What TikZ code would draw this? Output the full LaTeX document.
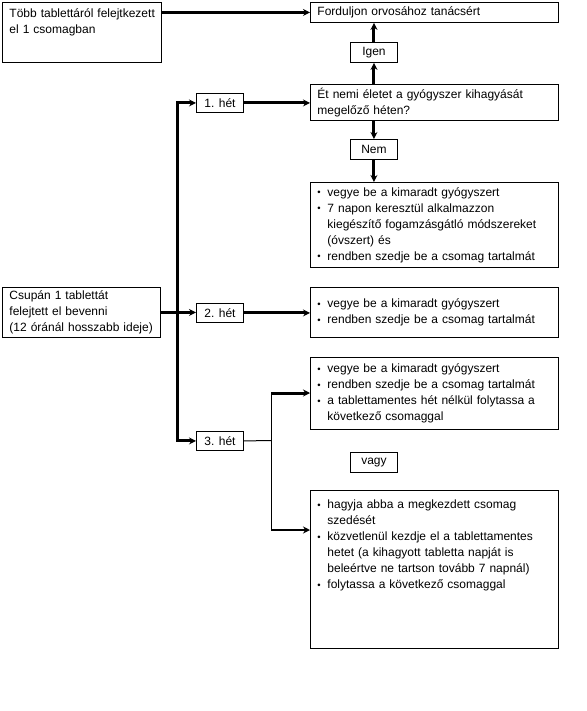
\documentclass[tikz,border=0pt]{standalone}
\usepackage{fontspec}
\setmainfont{Liberation Sans}
\usetikzlibrary{arrows.meta, positioning}

% one bullet line, later lines hang under the text
\newcommand{\itm}[1]{\noindent\hangindent=10pt\hangafter=1%
  \makebox[10pt][l]{\raisebox{0.3pt}{\fontsize{9.5}{9.5}\selectfont\textbullet}}#1\par}

\begin{document}
\begin{tikzpicture}[x=1pt, y=-1pt,
    every node/.style={font=\fontsize{12}{16}\selectfont},
    box/.style={
        draw, line width=0.9pt, anchor=north west, align=left,
        inner xsep=7pt, inner ysep=2pt, text width=#1,
    },
    box/.default=234pt,
    tag/.style={
        draw, line width=0.9pt, anchor=north west, inner sep=0pt,
        minimum width=47pt, minimum height=20pt,
    },
    conn/.style={line width=3pt, -{Stealth[length=7pt, width=7pt]}},
    wire/.style={line width=1pt},
]

\useasboundingbox (0,0) rectangle (586,711);

% Left column
\node[box=145pt, text height=13pt, text depth=43pt] (many) at (2,2)
    {\mbox{Több tablettáról felejtkezett}\\el 1 csomagban};
\node[box=144pt, minimum height=50pt] (single) at (2,287)
    {Csupán 1 tablettát\\felejtett el bevenni\\(12 óránál hosszabb ideje)};

% Weeks
\node[tag, minimum height=19pt] (week1) at (196,93) {1. hét};
\node[tag, minimum height=19pt] (week2) at (196,303) {2. hét};
\node[tag, minimum height=19pt] (week3) at (196,431) {3. hét};

% Right column
\node[box, minimum height=20pt] (visit) at (310,2) {Forduljon orvosához tanácsért};
\node[tag] (yes) at (350,42) {Igen};
\node[box, minimum height=36pt] (question) at (310,84)
    {Ét nemi életet a gyógyszer kihagyását\\megelőző héten?};
\node[tag] (no) at (350,139) {Nem};

\node[box, minimum height=85pt] (week1do) at (310,182) {%
    \itm{vegye be a kimaradt gyógyszert}%
    \itm{7 napon keresztül alkalmazzon\newline kiegészítő fogamzásgátló módszereket\newline (óvszert) és}%
    \itm{rendben szedje be a csomag tartalmát}};

\node[box, minimum height=50pt] (week2do) at (310,287) {%
    \itm{vegye be a kimaradt gyógyszert}%
    \itm{rendben szedje be a csomag tartalmát}};

\node[box, minimum height=72pt] (week3do) at (310,357) {%
    \itm{vegye be a kimaradt gyógyszert}%
    \itm{rendben szedje be a csomag tartalmát}%
    \itm{a tablettamentes hét nélkül folytassa a\newline következő csomaggal}};

\node[tag] (either) at (350,452) {vagy};

\node[box, text height=16pt, text depth=138pt] (week3alt) at (310,490) {%
    \itm{hagyja abba a megkezdett csomag\newline szedését}%
    \itm{közvetlenül kezdje el a tablettamentes\newline hetet (a kihagyott tabletta napját is\newline beleértve ne tartson tovább 7 napnál)}%
    \itm{folytassa a következő csomaggal}};

% Connectors
\draw[conn] (many.east |- visit.west) -- (visit.west);
\draw[conn] (question.north -| yes) -- (yes.south);
\draw[conn] (yes.north) -- (yes.north |- visit.south);
\draw[conn] (question.south -| no) -- (no.north);
\draw[conn] (no.south) -- (no.south |- week1do.north);

\coordinate (fork) at (177,312);
\draw[conn] (single.east) -- (single.east -| week2.west);
\draw[conn] (fork) |- (week1.west);
\draw[conn] (fork) |- (week3.west);

\draw[conn] (week1.east) -- (week1.east -| question.west);
\draw[conn] (week2.east) -- (week2.east -| week2do.west);

\coordinate (split) at (271,440.5);
\coordinate (upper) at (271,393);
\coordinate (lower) at (271,530);
\draw[wire] (week3.east) -- (split);
\draw[wire] (upper) -- (lower);
\draw[conn] (upper) -- (upper -| week3do.west);
\draw[conn, line width=2pt] (lower) -- (lower -| week3alt.west);

\end{tikzpicture}
\end{document}
